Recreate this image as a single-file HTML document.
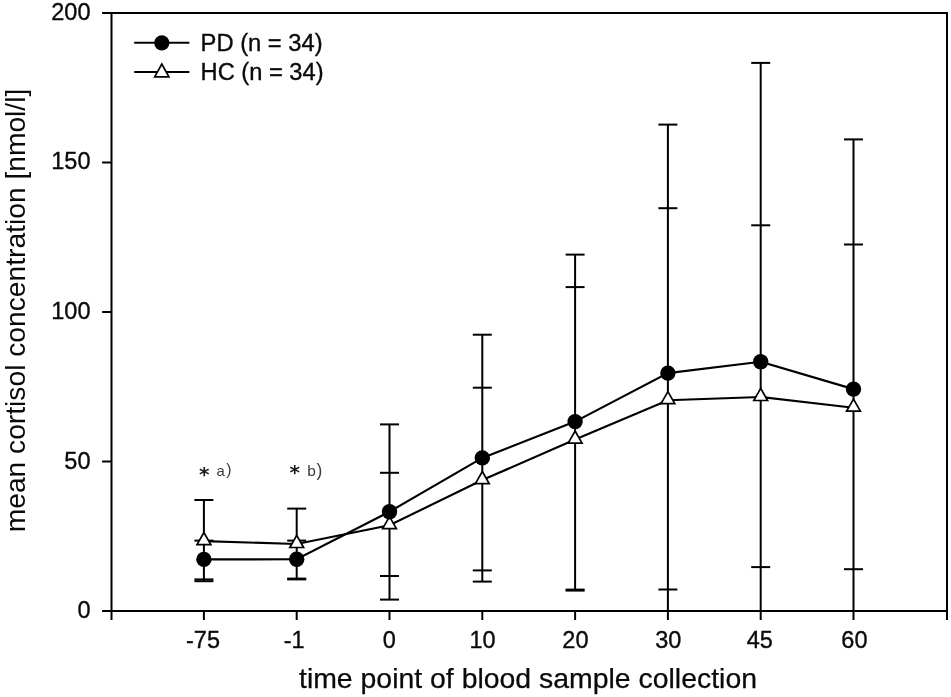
<!DOCTYPE html>
<html lang="en"><head><meta charset="utf-8"><title>Mean cortisol concentration</title>
<style>html,body{margin:0;padding:0;background:#fff;overflow:hidden}svg{display:block;will-change:transform;filter:grayscale(1)}text{font-family:"Liberation Sans",Arial,sans-serif;fill:#0a0a0a;stroke:#0a0a0a;stroke-width:.35px}</style>
</head><body>
<svg width="951" height="697" viewBox="0 0 951 697">
<rect x="0" y="0" width="951" height="697" fill="#ffffff"/>
<g stroke="#000" stroke-width="2" fill="none" stroke-linecap="butt">
<rect x="111.5" y="13.0" width="835.5" height="598.0"/>
<line x1="102.1" y1="611.00" x2="111.5" y2="611.00"/>
<line x1="102.1" y1="461.50" x2="111.5" y2="461.50"/>
<line x1="102.1" y1="312.00" x2="111.5" y2="312.00"/>
<line x1="102.1" y1="162.50" x2="111.5" y2="162.50"/>
<line x1="102.1" y1="13.00" x2="111.5" y2="13.00"/>
<line x1="111.50" y1="611.0" x2="111.50" y2="620.0"/>
<line x1="203.90" y1="611.0" x2="203.90" y2="620.0"/>
<line x1="296.70" y1="611.0" x2="296.70" y2="620.0"/>
<line x1="389.50" y1="611.0" x2="389.50" y2="620.0"/>
<line x1="482.30" y1="611.0" x2="482.30" y2="620.0"/>
<line x1="575.10" y1="611.0" x2="575.10" y2="620.0"/>
<line x1="667.90" y1="611.0" x2="667.90" y2="620.0"/>
<line x1="760.70" y1="611.0" x2="760.70" y2="620.0"/>
<line x1="853.50" y1="611.0" x2="853.50" y2="620.0"/>
<line x1="947.00" y1="611.0" x2="947.00" y2="620.0"/>
</g>
<g stroke="#000" stroke-width="2" fill="none">
<line x1="203.90" y1="500.0" x2="203.90" y2="581.2"/>
<line x1="194.40" y1="540.6" x2="213.40" y2="540.6"/>
<line x1="194.40" y1="579.4" x2="213.40" y2="579.4"/>
<line x1="194.40" y1="500.0" x2="213.40" y2="500.0"/>
<line x1="194.40" y1="581.2" x2="213.40" y2="581.2"/>
<line x1="296.70" y1="508.6" x2="296.70" y2="579.4"/>
<line x1="287.20" y1="540.6" x2="306.20" y2="540.6"/>
<line x1="287.20" y1="578.6" x2="306.20" y2="578.6"/>
<line x1="287.20" y1="508.6" x2="306.20" y2="508.6"/>
<line x1="287.20" y1="579.4" x2="306.20" y2="579.4"/>
<line x1="389.50" y1="424.4" x2="389.50" y2="599.6"/>
<line x1="380.00" y1="424.4" x2="399.00" y2="424.4"/>
<line x1="380.00" y1="599.6" x2="399.00" y2="599.6"/>
<line x1="380.00" y1="472.8" x2="399.00" y2="472.8"/>
<line x1="380.00" y1="576.0" x2="399.00" y2="576.0"/>
<line x1="482.30" y1="334.7" x2="482.30" y2="581.6"/>
<line x1="472.80" y1="334.7" x2="491.80" y2="334.7"/>
<line x1="472.80" y1="581.6" x2="491.80" y2="581.6"/>
<line x1="472.80" y1="387.7" x2="491.80" y2="387.7"/>
<line x1="472.80" y1="570.4" x2="491.80" y2="570.4"/>
<line x1="575.10" y1="254.6" x2="575.10" y2="590.6"/>
<line x1="565.60" y1="254.6" x2="584.60" y2="254.6"/>
<line x1="565.60" y1="590.6" x2="584.60" y2="590.6"/>
<line x1="565.60" y1="287.1" x2="584.60" y2="287.1"/>
<line x1="565.60" y1="589.6" x2="584.60" y2="589.6"/>
<line x1="667.90" y1="124.6" x2="667.90" y2="611.0"/>
<line x1="658.40" y1="124.6" x2="677.40" y2="124.6"/>
<line x1="658.40" y1="208.2" x2="677.40" y2="208.2"/>
<line x1="658.40" y1="589.5" x2="677.40" y2="589.5"/>
<line x1="760.70" y1="62.9" x2="760.70" y2="611.0"/>
<line x1="751.20" y1="62.9" x2="770.20" y2="62.9"/>
<line x1="751.20" y1="225.3" x2="770.20" y2="225.3"/>
<line x1="751.20" y1="567.1" x2="770.20" y2="567.1"/>
<line x1="853.50" y1="139.4" x2="853.50" y2="611.0"/>
<line x1="844.00" y1="139.4" x2="863.00" y2="139.4"/>
<line x1="844.00" y1="244.5" x2="863.00" y2="244.5"/>
<line x1="844.00" y1="569.2" x2="863.00" y2="569.2"/>
</g>
<polyline points="203.90,541.1 296.70,544.0 389.50,525.2 482.30,480.1 575.10,439.6 667.90,400.2 760.70,397.0 853.50,407.7" fill="none" stroke="#000" stroke-width="2.15"/>
<polyline points="203.90,559.4 296.70,559.3 389.50,511.7 482.30,457.9 575.10,421.6 667.90,373.1 760.70,361.8 853.50,389.1" fill="none" stroke="#000" stroke-width="2.15"/>
<path d="M203.90,532.50 L210.80,544.60 L197.00,544.60 Z" fill="#fff" stroke="#000" stroke-width="1.7" stroke-linejoin="miter"/>
<path d="M296.70,535.40 L303.60,547.50 L289.80,547.50 Z" fill="#fff" stroke="#000" stroke-width="1.7" stroke-linejoin="miter"/>
<path d="M389.50,516.60 L396.40,528.70 L382.60,528.70 Z" fill="#fff" stroke="#000" stroke-width="1.7" stroke-linejoin="miter"/>
<path d="M482.30,471.50 L489.20,483.60 L475.40,483.60 Z" fill="#fff" stroke="#000" stroke-width="1.7" stroke-linejoin="miter"/>
<path d="M575.10,431.00 L582.00,443.10 L568.20,443.10 Z" fill="#fff" stroke="#000" stroke-width="1.7" stroke-linejoin="miter"/>
<path d="M667.90,391.60 L674.80,403.70 L661.00,403.70 Z" fill="#fff" stroke="#000" stroke-width="1.7" stroke-linejoin="miter"/>
<path d="M760.70,388.40 L767.60,400.50 L753.80,400.50 Z" fill="#fff" stroke="#000" stroke-width="1.7" stroke-linejoin="miter"/>
<path d="M853.50,399.10 L860.40,411.20 L846.60,411.20 Z" fill="#fff" stroke="#000" stroke-width="1.7" stroke-linejoin="miter"/>
<circle cx="203.90" cy="559.4" r="7.7" fill="#000"/>
<circle cx="296.70" cy="559.3" r="7.7" fill="#000"/>
<circle cx="389.50" cy="511.7" r="7.7" fill="#000"/>
<circle cx="482.30" cy="457.9" r="7.7" fill="#000"/>
<circle cx="575.10" cy="421.6" r="7.7" fill="#000"/>
<circle cx="667.90" cy="373.1" r="7.7" fill="#000"/>
<circle cx="760.70" cy="361.8" r="7.7" fill="#000"/>
<circle cx="853.50" cy="389.1" r="7.7" fill="#000"/>
<line x1="134.2" y1="42.8" x2="189.4" y2="42.8" stroke="#000" stroke-width="2"/>
<circle cx="161.8" cy="42.8" r="7.6" fill="#000"/>
<line x1="134.2" y1="71.9" x2="189.4" y2="71.9" stroke="#000" stroke-width="2"/>
<path d="M161.80,64.00 L168.90,76.90 L154.70,76.90 Z" fill="#fff" stroke="#000" stroke-width="1.7" stroke-linejoin="miter"/>
<text x="200.6" y="50.7" font-size="23.5" textLength="122" lengthAdjust="spacingAndGlyphs">PD (n = 34)</text>
<text x="200.6" y="79.8" font-size="23.5" textLength="123" lengthAdjust="spacingAndGlyphs">HC (n = 34)</text>
<text x="90.5" y="618.10" font-size="23.5" text-anchor="end">0</text>
<text x="90.5" y="468.60" font-size="23.5" text-anchor="end">50</text>
<text x="90.5" y="319.10" font-size="23.5" text-anchor="end">100</text>
<text x="90.5" y="168.90" font-size="23.5" text-anchor="end">150</text>
<text x="90.5" y="20.10" font-size="23.5" text-anchor="end">200</text>
<text x="203.00" y="648.4" font-size="23.5" text-anchor="middle">-75</text>
<text x="294.10" y="648.4" font-size="23.5" text-anchor="middle">-1</text>
<text x="389.30" y="648.4" font-size="23.5" text-anchor="middle">0</text>
<text x="482.60" y="648.4" font-size="23.5" text-anchor="middle">10</text>
<text x="575.40" y="648.4" font-size="23.5" text-anchor="middle">20</text>
<text x="668.30" y="648.4" font-size="23.5" text-anchor="middle">30</text>
<text x="759.80" y="648.4" font-size="23.5" text-anchor="middle">45</text>
<text x="854.40" y="648.4" font-size="23.5" text-anchor="middle">60</text>
<text x="528.0" y="687.5" style="stroke-width:.25px" font-size="27.4" text-anchor="middle" textLength="458" lengthAdjust="spacingAndGlyphs">time point of blood sample collection</text>
<text transform="translate(24.8,310.5) rotate(-90)" style="stroke:none" font-size="28" text-anchor="middle" textLength="443.6" lengthAdjust="spacingAndGlyphs">mean cortisol concentration [nmol/l]</text>
<text x="199.1" y="480.8" font-size="20" style="font-family:'DejaVu Sans',sans-serif;font-weight:bold;fill:#1a1a1a;stroke:none">*</text>
<text x="216.6" y="476.1" font-size="14.8" style="fill:#3c3c3c;stroke:none">a<tspan x="226.3" y="474.5" font-size="15.8">)</tspan></text>
<text x="289.6" y="478.6" font-size="20" style="font-family:'DejaVu Sans',sans-serif;font-weight:bold;fill:#1a1a1a;stroke:none">*</text>
<text x="307.2" y="476.1" font-size="15.4" style="fill:#3c3c3c;stroke:none">b<tspan x="316.6" y="475.8" font-size="17.5">)</tspan></text>
</svg>
</body></html>
